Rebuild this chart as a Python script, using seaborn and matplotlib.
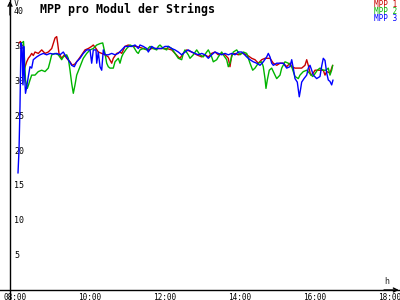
import numpy as np
import pandas as pd
import matplotlib
matplotlib.use("Agg")
import matplotlib.pyplot as plt
import seaborn as sns

TITLE = "MPP pro Modul der Strings"
SERIES_NAMES = ["MPP 1", "MPP 2", "MPP 3"]
SERIES_COLORS = ["#c80000", "#00b400", "#0000ff"]
Y_UNIT = "V"
X_UNIT = "h"
Y_TICKS = [5, 10, 15, 20, 25, 30, 35, 40]
X_TICKS = [8, 10, 12, 14, 16, 18]
X_TICK_LABELS = ["08:00", "10:00", "12:00", "14:00", "16:00", "18:00"]

# time in decimal hours, value in V
mpp1_time = [8.107, 8.147, 8.227, 8.312, 8.355, 8.4, 8.445, 8.488, 8.533, 8.621, 8.712, 8.8, 8.888, 8.979,
             9.067, 9.112, 9.139, 9.173, 9.245, 9.315, 9.379, 9.467, 9.528, 9.6, 9.688, 9.779, 9.867, 9.955,
             10.045, 10.088, 10.16, 10.221, 10.312, 10.4, 10.488, 10.579, 10.621, 10.712, 10.8, 10.845, 10.933,
             11.021, 11.112, 11.245, 11.421, 11.555, 11.645, 11.779, 11.912, 12.045, 12.179, 12.355, 12.4,
             12.488, 12.579, 12.712, 12.845, 12.979, 13.067, 13.155, 13.245, 13.333, 13.421, 13.512, 13.6,
             13.688, 13.733, 13.779, 13.867, 13.955, 14.045, 14.088, 14.179, 14.312, 14.4, 14.488, 14.579,
             14.667, 14.8, 14.888, 14.979, 15.067, 15.155, 15.245, 15.333, 15.379, 15.467, 15.555, 15.645,
             15.733, 15.779, 15.821, 15.885, 15.955, 16.0, 16.061, 16.133, 16.221, 16.267, 16.312, 16.4,
             16.445, 16.472]
mpp1_value = [35.3, 35.5, 31.2, 32.6, 33.1, 33.4, 33.8, 33.5, 34.0, 33.8, 34.3, 33.8, 34.0, 34.5,
              36.0, 36.2, 35.2, 33.8, 33.1, 33.6, 33.1, 32.6, 32.1, 32.3, 32.9, 33.6, 34.3, 34.5,
              34.8, 35.0, 34.5, 34.0, 33.8, 33.6, 33.3, 32.4, 33.1, 33.8, 34.0, 33.8, 34.8,
              35.0, 34.8, 34.8, 34.5, 34.3, 34.5, 34.5, 34.5, 34.5, 34.3, 33.3, 33.1,
              33.8, 34.3, 34.0, 33.6, 33.3, 33.6, 33.3, 33.8, 34.0, 33.6, 33.8, 33.6,
              33.1, 31.9, 33.6, 33.8, 33.6, 33.8, 33.8, 33.6, 33.1, 32.9, 32.4, 32.9,
              33.1, 33.1, 32.4, 32.1, 32.4, 32.4, 31.9, 32.4, 31.9, 31.7, 31.7, 31.7,
              32.1, 32.9, 32.1, 30.7, 31.0, 31.4, 31.4, 31.4, 31.4, 30.7, 31.2, 31.0,
              31.7, 32.1]

mpp2_time = [8.187, 8.227, 8.253, 8.28, 8.328, 8.36, 8.4, 8.445, 8.533, 8.621, 8.712, 8.8, 8.888, 8.933,
             8.979, 9.067, 9.155, 9.245, 9.288, 9.379, 9.421, 9.467, 9.512, 9.555, 9.6, 9.645, 9.733,
             9.821, 9.912, 10.0, 10.088, 10.179, 10.267, 10.339, 10.4, 10.445, 10.488, 10.533, 10.621,
             10.667, 10.755, 10.8, 10.845, 10.888, 10.979, 11.067, 11.155, 11.245, 11.288, 11.333, 11.421,
             11.512, 11.6, 11.688, 11.779, 11.821, 11.867, 11.955, 12.045, 12.088, 12.179, 12.267, 12.355,
             12.445, 12.488, 12.533, 12.621, 12.667, 12.755, 12.845, 12.933, 13.021, 13.112, 13.155,
             13.245, 13.288, 13.379, 13.421, 13.512, 13.555, 13.645, 13.688, 13.733, 13.779, 13.821,
             13.912, 14.0, 14.088, 14.179, 14.267, 14.339, 14.4, 14.488, 14.579, 14.621, 14.667, 14.693,
             14.728, 14.781, 14.845, 14.933, 14.979, 15.067, 15.112, 15.2, 15.288, 15.379, 15.421,
             15.467, 15.555, 15.6, 15.688, 15.779, 15.867, 15.939, 16.0, 16.061, 16.133, 16.221,
             16.293, 16.355, 16.4, 16.445, 16.472]
mpp2_value = [35.3, 35.5, 33.0, 30.0, 28.8, 29.3, 30.0, 30.7, 30.7, 31.2, 31.4, 31.2, 31.7, 32.6,
              33.6, 33.8, 33.6, 32.9, 33.3, 33.6, 33.1, 31.4, 29.5, 28.1, 29.3, 30.7, 31.9,
              33.1, 33.8, 34.3, 34.5, 35.0, 35.2, 35.3, 33.8, 32.4, 31.9, 31.7, 31.7,
              32.6, 33.1, 32.4, 33.3, 33.8, 34.5, 35.0, 34.8, 34.0, 33.8, 34.3, 34.5,
              34.3, 34.8, 34.5, 34.3, 34.8, 35.0, 34.5, 34.3, 34.8, 34.5, 33.8, 33.1,
              32.9, 33.8, 34.3, 33.6, 33.1, 33.6, 34.3, 33.6, 33.3, 34.0, 34.3,
              33.3, 32.6, 32.9, 33.3, 34.0, 33.6, 32.9, 31.9, 32.4, 33.3, 34.0,
              34.3, 33.6, 34.0, 33.8, 32.4, 31.4, 31.7, 32.4, 32.6, 31.9, 30.2, 28.8,
              30.0, 31.4, 31.7, 30.7, 30.2, 30.7, 31.7, 32.6, 32.4, 31.9, 31.2,
              30.5, 30.2, 30.7, 31.2, 31.4, 30.9, 30.5, 30.9, 31.4, 31.7, 31.4,
              31.4, 31.7, 30.7, 31.4, 32.1]

mpp3_time = [8.08, 8.107, 8.133, 8.16, 8.187, 8.213, 8.232, 8.253, 8.28, 8.312, 8.355, 8.4, 8.445, 8.488,
             8.579, 8.667, 8.755, 8.845, 8.933, 9.021, 9.112, 9.2, 9.288, 9.333, 9.421, 9.512, 9.581,
             9.645, 9.733, 9.821, 9.912, 10.0, 10.045, 10.088, 10.16, 10.179, 10.221, 10.267, 10.312,
             10.355, 10.4, 10.488, 10.579, 10.667, 10.755, 10.845, 10.933, 11.021, 11.112, 11.2, 11.288,
             11.333, 11.421, 11.512, 11.555, 11.645, 11.733, 11.821, 11.912, 12.0, 12.088, 12.179, 12.267,
             12.355, 12.445, 12.533, 12.621, 12.712, 12.8, 12.888, 12.979, 13.067, 13.155, 13.245, 13.333,
             13.421, 13.512, 13.6, 13.688, 13.779, 13.867, 13.955, 14.045, 14.088, 14.179, 14.267, 14.355,
             14.445, 14.533, 14.621, 14.712, 14.755, 14.8, 14.845, 14.888, 14.979, 15.067, 15.155, 15.245,
             15.333, 15.379, 15.421, 15.467, 15.528, 15.581, 15.619, 15.645, 15.707, 15.779, 15.821,
             15.867, 15.912, 15.955, 16.045, 16.133, 16.179, 16.221, 16.267, 16.312, 16.355, 16.4,
             16.445, 16.48]
mpp3_value = [16.7, 20.0, 26.2, 35.3, 34.5, 29.3, 34.8, 31.0, 28.1, 29.0, 30.5, 31.9, 31.7, 32.9,
              33.3, 33.6, 33.8, 33.6, 33.8, 33.7, 33.8, 33.6, 34.0, 33.6, 32.9, 32.1, 31.9,
              32.6, 33.1, 33.8, 34.3, 34.3, 32.4, 34.3, 34.3, 32.4, 34.0, 31.9, 31.4,
              34.3, 33.6, 33.6, 33.8, 33.6, 33.8, 34.3, 34.8, 34.8, 34.8, 35.0, 34.5,
              35.0, 34.8, 34.5, 34.0, 34.8, 34.5, 34.5, 34.5, 34.8, 34.8, 34.5, 34.3,
              34.0, 33.6, 34.0, 34.3, 34.0, 33.8, 33.6, 33.8, 33.6, 33.1, 33.6, 34.0,
              33.8, 33.6, 33.8, 33.6, 33.8, 33.6, 34.0, 34.0, 33.8, 33.3, 32.9, 32.6,
              32.4, 32.1, 32.6, 33.3, 33.8, 33.3, 32.4, 32.1, 32.4, 32.4, 32.4, 31.7,
              31.9, 32.9, 31.7, 30.2, 29.7, 27.6, 28.8, 29.7, 30.2, 30.7, 31.7,
              32.1, 31.4, 30.7, 30.2, 30.5, 32.0, 33.1, 32.8, 31.0, 30.0, 29.8,
              29.3, 30.0]

frames = []
for name, t, v in zip(SERIES_NAMES,
                      [mpp1_time, mpp2_time, mpp3_time],
                      [mpp1_value, mpp2_value, mpp3_value]):
    frames.append(pd.DataFrame({"time": t, "value": v, "series": name}))
df = pd.concat(frames, ignore_index=True)

sns.set_style("white")
plt.rcParams["font.family"] = ["DejaVu Sans Mono", "DejaVu Sans"]

fig = plt.figure(figsize=(4, 3), dpi=100)
ax = fig.add_axes([0, 0, 1, 1])

sns.lineplot(data=df, x="time", y="value", hue="series",
             palette=dict(zip(SERIES_NAMES, SERIES_COLORS)),
             estimator=None, sort=False, legend=False, linewidth=1.0, ax=ax)

x_axis_pos = 7.867
ax.set_xlim(7.6, 18.267)
ax.set_ylim(-1.43, 41.43)
ax.set_xlabel("")
ax.set_ylabel("")

for s in ["top", "right"]:
    ax.spines[s].set_visible(False)
ax.spines["left"].set_position(("data", x_axis_pos))
ax.spines["bottom"].set_position(("data", 0))
for s in ["left", "bottom"]:
    ax.spines[s].set_color("black")
    ax.spines[s].set_linewidth(1.0)

ax.set_yticks(Y_TICKS)
ax.set_yticklabels([str(t) for t in Y_TICKS])
ax.set_xticks(X_TICKS)
ax.set_xticklabels(X_TICK_LABELS)
ax.tick_params(axis="both", direction="inout", length=3.6, width=1.0, color="black",
               labelcolor="black")
ax.tick_params(axis="y", pad=-4.7, labelsize=6)
ax.tick_params(axis="x", pad=0.2, labelsize=5.6)
for lab in ax.get_yticklabels():
    lab.set_horizontalalignment("left")

# axis arrow heads
ax.annotate("", xy=(0.997, 0), xycoords=ax.get_yaxis_transform(),
            xytext=(0.96, 0), textcoords=ax.get_yaxis_transform(),
            arrowprops=dict(arrowstyle="->", color="black", lw=1.0,
                            shrinkA=0, shrinkB=0, mutation_scale=7))
ax.annotate("", xy=(x_axis_pos, 0.997), xycoords=ax.get_xaxis_transform(),
            xytext=(x_axis_pos, 0.95), textcoords=ax.get_xaxis_transform(),
            arrowprops=dict(arrowstyle="->", color="black", lw=1.0,
                            shrinkA=0, shrinkB=0, mutation_scale=7))

# texts
fig.text(40 / 400, 1 - 9 / 300, TITLE, fontsize=8.4, fontweight="bold",
         ha="left", va="center", color="black")
fig.text(16.5 / 400, 1 - 3 / 300, Y_UNIT, fontsize=6, ha="center", va="center")
fig.text(387 / 400, 1 - 281 / 300, X_UNIT, fontsize=6, ha="center", va="center")
for i, (name, col) in enumerate(zip(SERIES_NAMES, SERIES_COLORS)):
    fig.text(397 / 400, 1 - (4.5 + 7.2 * i) / 300, name, color=col, fontsize=5.6,
             ha="right", va="center")

fig.savefig("out.png", dpi=100, facecolor="white")
